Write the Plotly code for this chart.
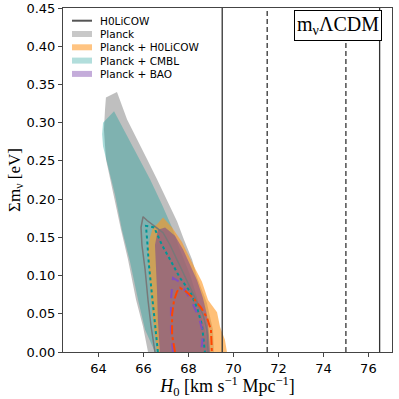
import plotly.graph_objects as go

# ---- data ----
planck_x = [64.33, 64.82, 65.27, 65.84, 66.16, 66.60, 67.04, 67.49, 67.80, 68.16, 68.38, 68.69, 68.82, 69.09, 69.13,
            66.20, 65.98, 65.67, 65.31, 65.00, 64.64, 64.33, 64.24, 64.29]
planck_y = [0.333, 0.340, 0.304, 0.272, 0.252, 0.226, 0.199, 0.171, 0.147, 0.121, 0.098, 0.075, 0.064, 0.029, 0.0,
            0.0, 0.033, 0.068, 0.121, 0.160, 0.209, 0.252, 0.291, 0.318]

cmbl_x = [64.69, 65.13, 65.71, 66.29, 66.82, 67.27, 67.62, 68.07, 68.42, 68.73, 68.87,
          66.51, 66.07, 65.76, 65.40, 65.04, 64.73, 64.42, 64.20, 64.16, 64.20]
cmbl_y = [0.315, 0.291, 0.258, 0.226, 0.193, 0.163, 0.134, 0.101, 0.068, 0.029, 0.0,
          0.0, 0.029, 0.068, 0.118, 0.160, 0.206, 0.243, 0.269, 0.285, 0.300]

h0l_x = [66.60, 66.87, 67.27, 67.71, 68.16, 68.60, 68.87, 69.13, 69.27, 69.40, 69.62, 69.71,
         66.60, 66.47, 66.33, 66.24, 66.20, 66.29, 66.42]
h0l_y = [0.167, 0.176, 0.163, 0.144, 0.117, 0.092, 0.068, 0.058, 0.052, 0.033, 0.016, 0.0,
         0.0, 0.029, 0.068, 0.108, 0.134, 0.150, 0.163]

bao_x = [66.64, 66.96, 67.40, 67.76, 68.07, 68.38, 68.64, 68.82, 68.91, 68.96,
         66.73, 66.64, 66.60, 66.56, 66.51]
bao_y = [0.160, 0.163, 0.152, 0.134, 0.114, 0.094, 0.071, 0.049, 0.022, 0.0,
         0.0, 0.042, 0.081, 0.114, 0.140]

# inner (line) contours, open at the bottom axis
planck_in_x = [66.51, 66.33, 66.20, 66.07, 65.93, 65.89, 65.98, 66.16, 66.56, 66.87, 67.18, 67.53, 67.93, 68.33, 68.64, 68.82, 68.87]
planck_in_y = [0.0, 0.035, 0.068, 0.108, 0.140, 0.163, 0.177, 0.172, 0.163, 0.156, 0.140, 0.118, 0.094, 0.068, 0.049, 0.029, 0.0]

cmbl_in_x = [66.64, 66.51, 66.38, 66.24, 66.16, 66.11, 66.47, 66.82, 67.18, 67.62, 68.07, 68.38, 68.60, 68.73]
cmbl_in_y = [0.0, 0.035, 0.075, 0.114, 0.147, 0.165, 0.163, 0.140, 0.121, 0.097, 0.079, 0.058, 0.035, 0.0]

bao_in_x = [67.31, 67.22, 67.22, 67.27, 67.31, 67.58, 67.89, 68.20, 68.47, 68.64, 68.60, 68.51]
bao_in_y = [0.0, 0.029, 0.068, 0.088, 0.097, 0.092, 0.079, 0.062, 0.045, 0.025, 0.009, 0.0]

h0l_in_x = [67.40, 67.27, 67.27, 67.36, 67.49, 67.62, 67.89, 68.20, 68.56, 68.82, 69.00, 69.04, 69.04]
h0l_in_y = [0.0, 0.022, 0.049, 0.068, 0.079, 0.084, 0.079, 0.071, 0.058, 0.045, 0.029, 0.013, 0.0]

h0licow_solid = [69.5, 76.5]
h0licow_dashed = [71.5, 75.0]

x_ticks = [64, 66, 68, 70, 72, 74, 76]
y_ticks = [0.00, 0.05, 0.10, 0.15, 0.20, 0.25, 0.30, 0.35, 0.40, 0.45]

legend_labels = ["H0LiCOW", "Planck", "Planck + H0LiCOW", "Planck + CMBL", "Planck + BAO"]
legend_colors = ["#555555", "rgb(200,200,200)", "rgb(255,196,130)", "rgb(178,222,220)", "rgb(196,172,218)"]

XR = [62.42, 77.05]
YR = [0.0, 0.45]

W, H = 399, 399
ML, MR, MT, MB = 63, 7, 8, 47
PW, PH = W - ML - MR, H - MT - MB

def px2paper(px, py):
    return (px - ML) / PW, (H - MB - py) / PH

fig = go.Figure()

def filled(x, y, color, name):
    fig.add_trace(go.Scatter(x=x, y=y, fill="toself", fillcolor=color, mode="lines",
                             line=dict(width=0, color=color), name=name, showlegend=False,
                             hoverinfo="skip"))

filled(planck_x, planck_y, "rgba(128,128,128,0.5)", "Planck")
filled(cmbl_x, cmbl_y, "rgba(20,158,152,0.37)", "Planck + CMBL")
filled(h0l_x, h0l_y, "rgba(255,150,30,0.6)", "Planck + H0LiCOW")
filled(bao_x, bao_y, "rgba(110,60,150,0.5)", "Planck + BAO")

def lined(x, y, color, dash, width):
    fig.add_trace(go.Scatter(x=x, y=y, mode="lines", line=dict(color=color, dash=dash, width=width),
                             showlegend=False, hoverinfo="skip"))

lined(planck_in_x, planck_in_y, "rgb(120,120,120)", "solid", 1.5)
lined(cmbl_in_x, cmbl_in_y, "rgb(0,150,150)", "dot", 2)
lined(bao_in_x, bao_in_y, "rgb(130,80,190)", "dash", 2)
lined(h0l_in_x, h0l_in_y, "rgb(255,69,0)", "dashdot", 2)

# H0LiCOW vertical lines
for v in h0licow_solid:
    fig.add_trace(go.Scatter(x=[v, v], y=YR, mode="lines", line=dict(color="#333333", width=1.3),
                             name="H0LiCOW", showlegend=False, hoverinfo="skip"))
for v in h0licow_dashed:
    fig.add_trace(go.Scatter(x=[v, v], y=YR, mode="lines", line=dict(color="#333333", width=1.3, dash="5px,3px"),
                             showlegend=False, hoverinfo="skip"))

# manual legend (matplotlib-like compact layout)
row0, row_gap = 20.7, 13.3
for i, (lab, col) in enumerate(zip(legend_labels, legend_colors)):
    py = row0 + i * row_gap
    x0, y0 = px2paper(72, py - 3)
    x1, y1 = px2paper(92, py + 3)
    if i == 0:
        _, ym = px2paper(0, py)
        fig.add_shape(type="line", xref="paper", yref="paper", x0=x0, x1=x1, y0=ym, y1=ym,
                      line=dict(color=col, width=2))
    else:
        fig.add_shape(type="rect", xref="paper", yref="paper", x0=x0, x1=x1, y0=y0, y1=y1,
                      fillcolor=col, line=dict(width=0))
    tx, ty = px2paper(98, py)
    fig.add_annotation(x=tx, y=ty, xref="paper", yref="paper", xanchor="left", yanchor="middle",
                       text=lab, showarrow=False,
                       font=dict(family="DejaVu Sans", size=10.5, color="black"))

bx, by = px2paper(382, 9.5)
fig.add_annotation(x=bx, y=by, xref="paper", yref="paper", xanchor="right", yanchor="top",
                   text="m<sub>ν</sub>ΛCDM", showarrow=False,
                   font=dict(family="Liberation Serif", size=20, color="black"),
                   bgcolor="white", bordercolor="black", borderwidth=1, borderpad=2)

axis_common = dict(showgrid=False, zeroline=False, showline=True, linecolor="#444444", linewidth=1,
                   mirror=True, ticks="outside", ticklen=4, tickcolor="#444444", automargin=False,
                   tickfont=dict(family="DejaVu Sans", size=13, color="black"))

fig.update_xaxes(range=XR, tickvals=x_ticks, ticktext=[str(t) for t in x_ticks],
                 title=dict(text="<i>H</i><sub>0</sub> [km s<sup>−1</sup> Mpc<sup>−1</sup>]",
                            font=dict(family="Liberation Serif", size=18, color="black"), standoff=5),
                 **axis_common)
fig.update_yaxes(range=YR, tickvals=y_ticks, ticktext=[f"{t:.2f}" for t in y_ticks],
                 title=dict(text="Σm<sub>ν</sub> [eV]",
                            font=dict(family="Liberation Serif", size=17, color="black"), standoff=0),
                 **axis_common)

fig.update_layout(width=W, height=H, margin=dict(l=ML, r=MR, t=MT, b=MB),
                  paper_bgcolor="white", plot_bgcolor="white", showlegend=False)

fig.write_html("out.html", config={"displayModeBar": False},
               post_script="document.body.style.margin='0';")
